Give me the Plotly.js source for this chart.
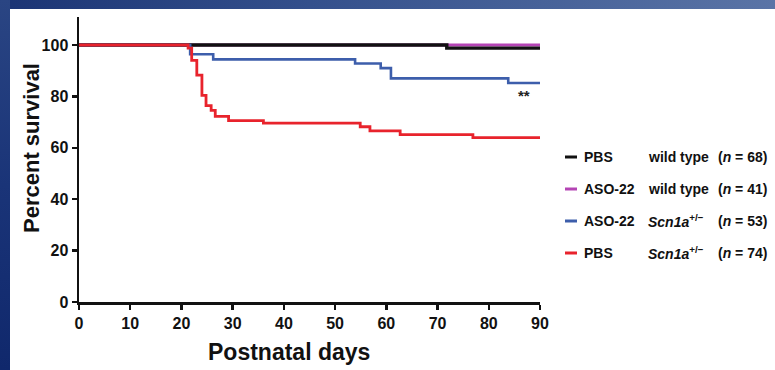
<!DOCTYPE html>
<html>
<head>
<meta charset="utf-8">
<script src="https://cdn.plot.ly/plotly-3.0.1.min.js"></script>
<style>
  html, body { margin: 0; padding: 0; }
  body { width: 775px; height: 370px; overflow: hidden; position: relative;
         background: linear-gradient(to right, #1b3474 0%, #34508c 40%, #5a74a6 100%); }
  #leftband { position: absolute; left: 0; top: 0; width: 10px; height: 370px;
              background: linear-gradient(to bottom, #2a4583 0%, #1a3478 50%, #10286c 100%); }
  #chart { position: absolute; left: 10px; top: 9px; width: 765px; height: 361px; background: #fff; }
</style>
</head>
<body>
<div id="leftband"></div>
<div id="chart"></div>
<script>
// ---- data ----
const pbsWtDays   = [0, 71.8, 90];
const pbsWtSurv   = [100, 98.8, 98.8];
const asoWtDays   = [0, 90];
const asoWtSurv   = [100, 100];
const asoHetDays  = [0, 21.7, 26.2, 53.9, 58.9, 60.9, 83.8, 90];
const asoHetSurv  = [100, 96.4, 94.4, 92.8, 91.0, 87.0, 85.2, 85.2];
const pbsHetDays  = [0, 21.3, 22.0, 23.0, 24.0, 24.8, 25.8, 26.6, 29.2, 36.0, 54.9, 56.8, 62.7, 76.9, 90];
const pbsHetSurv  = [100, 98.8, 94.0, 88.3, 80.4, 76.4, 74.6, 72.2, 70.6, 69.6, 68.2, 66.6, 65.1, 64.0, 64.0];

const groupTreat  = ["PBS", "ASO-22", "ASO-22", "PBS"];
const groupGeno   = ["wild type", "wild type", "<i>Scn1a</i><sup>+/\u2212</sup>", "<i>Scn1a</i><sup>+/\u2212</sup>"];
const groupN      = ["(<i>n</i> = 68)", "(<i>n</i> = 41)", "(<i>n</i> = 53)", "(<i>n</i> = 74)"];
const groupColors = ["#111111", "#b444b4", "#3d5eab", "#e8232c"];

const xTicks = [0, 10, 20, 30, 40, 50, 60, 70, 80, 90];
const yTicks = [0, 20, 40, 60, 80, 100];
const sigText = "**";
const sigX = 86.8, sigY = 80.5;

// ---- layout helpers ----
const W = 765, H = 361;
const M = {l: 69, r: 235, t: 8, b: 68};
const pw = W - M.l - M.r, ph = H - M.t - M.b;
const px2x = X => (X - 10 - M.l) / pw;   // page px -> paper x
const px2y = Y => (H - M.b - (Y - 9)) / ph; // page px -> paper y

const FONT = "Liberation Sans, Arial, Helvetica, sans-serif";

const seriesDays = [pbsWtDays, asoWtDays, asoHetDays, pbsHetDays];
const seriesSurv = [pbsWtSurv, asoWtSurv, asoHetSurv, pbsHetSurv];
const drawOrder = [1, 0, 2, 3];
const widths = [3.4, 3, 2.6, 2.8];

const traces = drawOrder.map(i => ({
  x: seriesDays[i], y: seriesSurv[i], type: "scatter", mode: "lines",
  line: {shape: "hv", color: groupColors[i], width: widths[i]},
  name: groupTreat[i] + " " + groupGeno[i], showlegend: false, hoverinfo: "skip"
}));

const rowY = [157, 189, 221, 253];
const shapes = [];
const annotations = [];
rowY.forEach((Y, i) => {
  shapes.push({type: "line", xref: "paper", yref: "paper",
    x0: px2x(565), x1: px2x(577), y0: px2y(Y), y1: px2y(Y),
    line: {color: groupColors[i], width: 3}});
  annotations.push({xref: "paper", yref: "paper", x: px2x(582), y: px2y(Y), xanchor: "left", yanchor: "middle",
    text: groupTreat[i], showarrow: false, font: {family: FONT, size: 14, color: "#111", weight: "bold"}});
  annotations.push({xref: "paper", yref: "paper", x: px2x(646), y: px2y(Y), xanchor: "left", yanchor: "middle",
    text: groupGeno[i], showarrow: false, font: {family: FONT, size: 14, color: "#111", weight: "bold"}});
  annotations.push({xref: "paper", yref: "paper", x: px2x(716), y: px2y(Y), xanchor: "left", yanchor: "middle",
    text: groupN[i], showarrow: false, font: {family: FONT, size: 14, color: "#111", weight: "bold"}});
});

annotations.push({xref: "x", yref: "y", x: sigX, y: sigY, text: sigText, showarrow: false,
  font: {family: FONT, size: 15, color: "#222", weight: "bold"}});
annotations.push({xref: "paper", yref: "paper", x: px2x(31), y: px2y(148), text: "Percent survival",
  textangle: -90, showarrow: false, xanchor: "center", yanchor: "middle",
  font: {family: FONT, size: 22, color: "#111", weight: "bold"}});
annotations.push({xref: "paper", yref: "paper", x: px2x(289), y: px2y(352), text: "Postnatal days",
  showarrow: false, xanchor: "center", yanchor: "middle",
  font: {family: FONT, size: 23, color: "#111", weight: "bold"}});

const layout = {
  width: W, height: H,
  margin: M,
  paper_bgcolor: "#ffffff", plot_bgcolor: "#ffffff",
  showlegend: false,
  xaxis: {range: [0, 90], tickvals: xTicks, ticktext: xTicks.map(String),
    showgrid: false, zeroline: false, showline: true, linecolor: "#111", linewidth: 2.5,
    ticks: "outside", ticklen: 5, tickwidth: 2.5, tickcolor: "#111",
    tickfont: {family: FONT, size: 16, color: "#111", weight: "bold"}, fixedrange: true},
  yaxis: {range: [0, 110.9], tickvals: yTicks, ticktext: yTicks.map(String),
    showgrid: false, zeroline: false, showline: true, linecolor: "#111", linewidth: 2.5,
    ticks: "outside", ticklen: 5, tickwidth: 2.5, tickcolor: "#111",
    tickfont: {family: FONT, size: 16, color: "#111", weight: "bold"}, fixedrange: true},
  shapes: shapes,
  annotations: annotations
};

Plotly.newPlot("chart", traces, layout, {staticPlot: true, displayModeBar: false});
</script>
</body>
</html>
